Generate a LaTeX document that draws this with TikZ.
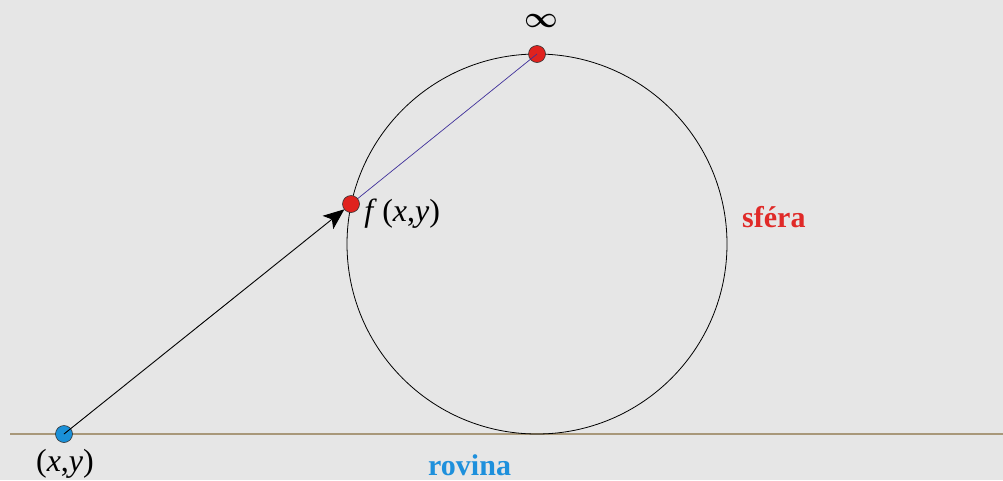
\documentclass[tikz,border=0pt]{standalone}
\usepackage{fontspec}
\setmainfont{Liberation Serif}
\usepackage{xcolor}
\usepackage{graphicx}
\usepackage{tikz}
\usetikzlibrary{arrows.meta,positioning,calc}
\definecolor{bgcol}{HTML}{E6E6E6}
\definecolor{planecol}{HTML}{A8987A}
\definecolor{redpt}{HTML}{E0221E}
\definecolor{bluept}{HTML}{1A90D8}
\definecolor{projcol}{HTML}{40309A}
\definecolor{labred}{HTML}{E02A28}
\definecolor{labblue}{HTML}{1E90DC}

\begin{document}
\begin{tikzpicture}[x=1pt,y=-1pt,
    dot/.style={circle,draw=black!80,line width=0.6pt,inner sep=0pt,minimum size=17pt},
    lab/.style={font=\fontsize{32}{36}\selectfont},
    biglab/.style={font=\fontsize{30}{34}\selectfont\bfseries,inner sep=1pt}]
  \fill[bgcol] (0,0) rectangle (1003,480);
  \useasboundingbox (0,0) rectangle (1003,480);
  % plane and sphere
  \coordinate (C) at (537,244);
  \draw[planecol,line width=1.3pt] (10,434) coordinate (L) -- (1003,434) coordinate (R);
  \draw[black,line width=0.8pt] (C) circle (190);
  \coordinate (fp) at (351,204);
  \node[dot,fill=bluept] (P) at (64,434) {};
  \node[dot,fill=redpt] (N) at (537,54) {};
  % projection lines
  \draw[projcol,line width=0.7pt] (fp) -- (N.center);
  \draw[line width=0.9pt,-{Stealth[length=21pt,width=17pt,inset=5pt]},shorten >=8.5pt] (P.center) -- (fp);
  \node[dot,fill=redpt] (F) at (fp) {};
  % labels
  \node[lab,below=3pt of P,xshift=1pt] (Plab) {(\textit{x},\textit{y})};
  \node[lab,right=1pt of F,yshift=-10pt] (Flab) {\textit{f}\,(\textit{x},\textit{y})};
  \node[font=\fontsize{24.88}{28}\selectfont\boldmath,inner sep=0pt] (inf) at (541,21) {\scalebox{1.18}{$\infty$}};
  \node[biglab,text=labred,anchor=base west] (sph) at (741,227) {sféra};
  \node[biglab,text=labblue,anchor=base west] (pl) at (427,475) {rovina};
\end{tikzpicture}
\end{document}
